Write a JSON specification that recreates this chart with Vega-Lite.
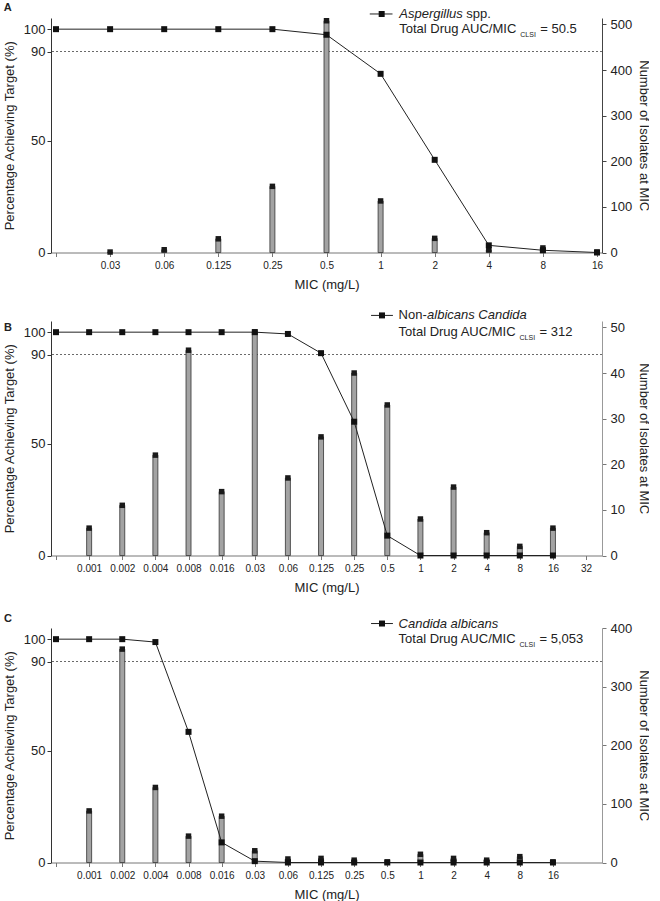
{
  "$schema": "https://vega.github.io/schema/vega-lite/v6.json",
  "padding": {"left": 2, "top": 2, "right": 0, "bottom": 0},
  "spacing": 17,
  "config": {
    "view": {"stroke": null},
    "font": "Liberation Sans",
    "axis": {"grid": false, "labelColor": "#222", "titleColor": "#222", "titleFontWeight": "normal", "titleFont": "Liberation Sans", "labelFont": "Liberation Sans", "domainWidth": 1, "tickWidth": 1},
    "axisX": {"labelOverlap": false, "labelFontSize": 10, "labelPadding": 4, "tickSize": 4, "domainColor": "#777", "tickColor": "#777", "labelFlush": false, "titleFontSize": 13, "titleY": 32, "titleBaseline": "middle"},
    "text": {"font": "Liberation Sans", "color": "#222"}
  },
  "datasets": {
    "A": [
      {"idx": 0, "mic": "", "pct": 100, "n": null},
      {"idx": 1, "mic": "0.03", "pct": 100, "n": 1},
      {"idx": 2, "mic": "0.06", "pct": 100, "n": 6},
      {"idx": 3, "mic": "0.125", "pct": 100, "n": 30},
      {"idx": 4, "mic": "0.25", "pct": 100, "n": 145},
      {"idx": 5, "mic": "0.5", "pct": 97.5, "n": 508},
      {"idx": 6, "mic": "1", "pct": 80, "n": 113},
      {"idx": 7, "mic": "2", "pct": 41.5, "n": 31},
      {"idx": 8, "mic": "4", "pct": 3.2, "n": 6},
      {"idx": 9, "mic": "8", "pct": 1, "n": 10},
      {"idx": 10, "mic": "16", "pct": 0, "n": 1}
    ],
    "B": [
      {"idx": 0, "mic": "", "pct": 100, "n": null},
      {"idx": 1, "mic": "0.001", "pct": 100, "n": 6},
      {"idx": 2, "mic": "0.002", "pct": 100, "n": 11},
      {"idx": 3, "mic": "0.004", "pct": 100, "n": 22},
      {"idx": 4, "mic": "0.008", "pct": 100, "n": 45},
      {"idx": 5, "mic": "0.016", "pct": 100, "n": 14},
      {"idx": 6, "mic": "0.03", "pct": 100, "n": 49},
      {"idx": 7, "mic": "0.06", "pct": 99.2, "n": 17},
      {"idx": 8, "mic": "0.125", "pct": 90.6, "n": 26},
      {"idx": 9, "mic": "0.25", "pct": 59.9, "n": 40},
      {"idx": 10, "mic": "0.5", "pct": 8.9, "n": 33},
      {"idx": 11, "mic": "1", "pct": 0, "n": 8},
      {"idx": 12, "mic": "2", "pct": 0, "n": 15},
      {"idx": 13, "mic": "4", "pct": 0, "n": 5},
      {"idx": 14, "mic": "8", "pct": 0, "n": 2},
      {"idx": 15, "mic": "16", "pct": 0, "n": 6}
    ],
    "C": [
      {"idx": 0, "mic": "", "pct": 100, "n": null},
      {"idx": 1, "mic": "0.001", "pct": 100, "n": 88},
      {"idx": 2, "mic": "0.002", "pct": 100, "n": 364},
      {"idx": 3, "mic": "0.004", "pct": 98.7, "n": 128},
      {"idx": 4, "mic": "0.008", "pct": 58.5, "n": 45},
      {"idx": 5, "mic": "0.016", "pct": 9, "n": 79},
      {"idx": 6, "mic": "0.03", "pct": 0.6, "n": 20},
      {"idx": 7, "mic": "0.06", "pct": 0, "n": 6},
      {"idx": 8, "mic": "0.125", "pct": 0, "n": 7},
      {"idx": 9, "mic": "0.25", "pct": 0, "n": 4},
      {"idx": 10, "mic": "0.5", "pct": 0, "n": 1},
      {"idx": 11, "mic": "1", "pct": 0, "n": 14},
      {"idx": 12, "mic": "2", "pct": 0, "n": 7},
      {"idx": 13, "mic": "4", "pct": 0, "n": 4},
      {"idx": 14, "mic": "8", "pct": 0, "n": 10},
      {"idx": 15, "mic": "16", "pct": 0, "n": 1}
    ]
  },
  "vconcat": [
    {
      "width": 551, "height": 234.5,
      "data": {"name": "A"},
      "layer": [
        {"data": {"values": [{}]}, "mark": {"type": "rule", "strokeDash": [2, 2], "color": "#444", "strokeWidth": 0.8},
         "encoding": {"y": {"datum": 90, "type": "quantitative", "scale": {"domain": [0, 105], "nice": false}, "axis": null}}},
        {"encoding": {
           "x": {"field": "idx", "type": "quantitative", "scale": {"domain": [0, 10], "nice": false},
                 "axis": {"values": [0,1,2,3,4,5,6,7,8,9,10], "labelExpr": "['','0.03','0.06','0.125','0.25','0.5','1','2','4','8','16'][datum.value]", "labelOverlap": false, "title": "MIC (mg/L)"}},
           "y": {"field": "n", "type": "quantitative", "scale": {"domain": [0, 514], "nice": false},
                 "axis": {"orient": "right", "values": [0,100,200,300,400,500], "labelFontSize": 13, "tickSize": 4, "labelPadding": 4, "domainColor": "#444", "tickColor": "#444", "title": "Number of Isolates at MIC", "titleFontSize": 13, "titleX": 41, "titleBaseline": "middle"}}},
         "layer": [
           {"mark": {"type": "bar", "orient": "vertical", "size": 5, "fill": "#a3a3a3", "stroke": "#333", "strokeWidth": 0.8}},
           {"mark": {"type": "point", "shape": "square", "filled": true, "color": "#1a1a1a", "size": 30, "opacity": 1}}
         ]},
        {"layer": [
           {"mark": {"type": "line", "color": "#222", "strokeWidth": 1},
            "encoding": {"x": {"field": "idx", "type": "quantitative", "axis": {"values": [0,1,2,3,4,5,6,7,8,9,10], "labelExpr": "['','0.03','0.06','0.125','0.25','0.5','1','2','4','8','16'][datum.value]", "labelOverlap": false, "title": "MIC (mg/L)"}},
                         "y": {"field": "pct", "type": "quantitative", "scale": {"domain": [0, 105], "nice": false},
                               "axis": {"orient": "left", "values": [0, 50, 90, 100], "labelFontSize": 13, "tickSize": 4, "labelPadding": 2, "domainColor": "#333", "tickColor": "#333", "title": "Percentage Achieving Target (%)", "titleFontSize": 13, "titleX": -42, "titleBaseline": "middle"}}}},
           {"mark": {"type": "point", "shape": "square", "filled": true, "color": "#111", "size": 36, "opacity": 1},
            "encoding": {"x": {"field": "idx", "type": "quantitative", "axis": {"values": [0,1,2,3,4,5,6,7,8,9,10], "labelExpr": "['','0.03','0.06','0.125','0.25','0.5','1','2','4','8','16'][datum.value]", "labelOverlap": false, "title": "MIC (mg/L)"}}, "y": {"field": "pct", "type": "quantitative"}}},
           {"data": {"values": [{}]}, "mark": {"type": "rule", "color": "#222", "strokeWidth": 1},
            "encoding": {"x": {"datum": 5.8, "type": "quantitative", "axis": {"values": [0,1,2,3,4,5,6,7,8,9,10], "labelExpr": "['','0.03','0.06','0.125','0.25','0.5','1','2','4','8','16'][datum.value]", "labelOverlap": false, "title": "MIC (mg/L)"}}, "x2": {"datum": 6.22}, "y": {"datum": 106.8}}},
           {"data": {"values": [{}]}, "mark": {"type": "point", "shape": "square", "filled": true, "color": "#111", "size": 36, "opacity": 1},
            "encoding": {"x": {"datum": 6.02, "type": "quantitative", "axis": {"values": [0,1,2,3,4,5,6,7,8,9,10], "labelExpr": "['','0.03','0.06','0.125','0.25','0.5','1','2','4','8','16'][datum.value]", "labelOverlap": false, "title": "MIC (mg/L)"}}, "y": {"datum": 106.8}}},
           {"data": {"values": [{}]}, "mark": {"type": "text", "text": "Aspergillus", "fontStyle": "italic", "fontSize": 13, "align": "left", "baseline": "middle"},
            "encoding": {"x": {"datum": 6.345, "type": "quantitative", "axis": {"values": [0,1,2,3,4,5,6,7,8,9,10], "labelExpr": "['','0.03','0.06','0.125','0.25','0.5','1','2','4','8','16'][datum.value]", "labelOverlap": false, "title": "MIC (mg/L)"}}, "y": {"datum": 106.8}}},
           {"data": {"values": [{}]}, "mark": {"type": "text", "text": "spp.", "fontSize": 13, "align": "left", "baseline": "middle", "dx": 67},
            "encoding": {"x": {"datum": 6.345, "type": "quantitative", "axis": {"values": [0,1,2,3,4,5,6,7,8,9,10], "labelExpr": "['','0.03','0.06','0.125','0.25','0.5','1','2','4','8','16'][datum.value]", "labelOverlap": false, "title": "MIC (mg/L)"}}, "y": {"datum": 106.8}}},
           {"data": {"values": [{}]}, "mark": {"type": "text", "text": "Total Drug AUC/MIC", "fontSize": 13, "align": "left", "baseline": "middle"},
            "encoding": {"x": {"datum": 6.345, "type": "quantitative", "axis": {"values": [0,1,2,3,4,5,6,7,8,9,10], "labelExpr": "['','0.03','0.06','0.125','0.25','0.5','1','2','4','8','16'][datum.value]", "labelOverlap": false, "title": "MIC (mg/L)"}}, "y": {"datum": 100}}},
           {"data": {"values": [{}]}, "mark": {"type": "text", "text": "CLSI", "fontSize": 7, "align": "left", "baseline": "middle", "dx": 121},
            "encoding": {"x": {"datum": 6.345, "type": "quantitative", "axis": {"values": [0,1,2,3,4,5,6,7,8,9,10], "labelExpr": "['','0.03','0.06','0.125','0.25','0.5','1','2','4','8','16'][datum.value]", "labelOverlap": false, "title": "MIC (mg/L)"}}, "y": {"datum": 97.5}}},
           {"data": {"values": [{}]}, "mark": {"type": "text", "text": "= 50.5", "fontSize": 13, "align": "left", "baseline": "middle", "dx": 141},
            "encoding": {"x": {"datum": 6.345, "type": "quantitative", "axis": {"values": [0,1,2,3,4,5,6,7,8,9,10], "labelExpr": "['','0.03','0.06','0.125','0.25','0.5','1','2','4','8','16'][datum.value]", "labelOverlap": false, "title": "MIC (mg/L)"}}, "y": {"datum": 100}}},
           {"data": {"values": [{}]}, "mark": {"type": "text", "text": "A", "fontSize": 11, "fontWeight": "bold", "align": "left", "baseline": "middle"},
            "encoding": {"x": {"datum": -0.964, "type": "quantitative", "axis": {"values": [0,1,2,3,4,5,6,7,8,9,10], "labelExpr": "['','0.03','0.06','0.125','0.25','0.5','1','2','4','8','16'][datum.value]", "labelOverlap": false, "title": "MIC (mg/L)"}}, "y": {"datum": 109.4}}}
         ]}
      ],
      "resolve": {"scale": {"y": "independent"}}
    },
    {
      "width": 551, "height": 234.5,
      "data": {"name": "B"},
      "layer": [
        {"data": {"values": [{}]}, "mark": {"type": "rule", "strokeDash": [2, 2], "color": "#444", "strokeWidth": 0.8},
         "encoding": {"y": {"datum": 90, "type": "quantitative", "scale": {"domain": [0, 105], "nice": false}, "axis": null}}},
        {"encoding": {
           "x": {"field": "idx", "type": "quantitative", "scale": {"domain": [0, 16.33], "nice": false},
                 "axis": {"values": [0,1,2,3,4,5,6,7,8,9,10,11,12,13,14,15,16], "labelExpr": "['','0.001','0.002','0.004','0.008','0.016','0.03','0.06','0.125','0.25','0.5','1','2','4','8','16','32'][datum.value]", "labelOverlap": false, "title": "MIC (mg/L)"}},
           "y": {"field": "n", "type": "quantitative", "scale": {"domain": [0, 51.4], "nice": false},
                 "axis": {"orient": "right", "values": [0,10,20,30,40,50], "labelFontSize": 13, "tickSize": 4, "labelPadding": 4, "domainColor": "#999", "tickColor": "#777", "title": "Number of Isolates at MIC", "titleFontSize": 13, "titleX": 41, "titleBaseline": "middle"}}},
         "layer": [
           {"mark": {"type": "bar", "orient": "vertical", "size": 5, "fill": "#a3a3a3", "stroke": "#333", "strokeWidth": 0.8}},
           {"mark": {"type": "point", "shape": "square", "filled": true, "color": "#1a1a1a", "size": 30, "opacity": 1}}
         ]},
        {"layer": [
           {"mark": {"type": "line", "color": "#222", "strokeWidth": 1},
            "encoding": {"x": {"field": "idx", "type": "quantitative", "axis": {"values": [0,1,2,3,4,5,6,7,8,9,10,11,12,13,14,15,16], "labelExpr": "['','0.001','0.002','0.004','0.008','0.016','0.03','0.06','0.125','0.25','0.5','1','2','4','8','16','32'][datum.value]", "labelOverlap": false, "title": "MIC (mg/L)"}},
                         "y": {"field": "pct", "type": "quantitative", "scale": {"domain": [0, 105], "nice": false},
                               "axis": {"orient": "left", "values": [0, 50, 90, 100], "labelFontSize": 13, "tickSize": 4, "labelPadding": 2, "domainColor": "#333", "tickColor": "#333", "title": "Percentage Achieving Target (%)", "titleFontSize": 13, "titleX": -42, "titleBaseline": "middle"}}}},
           {"mark": {"type": "point", "shape": "square", "filled": true, "color": "#111", "size": 36, "opacity": 1},
            "encoding": {"x": {"field": "idx", "type": "quantitative", "axis": {"values": [0,1,2,3,4,5,6,7,8,9,10,11,12,13,14,15,16], "labelExpr": "['','0.001','0.002','0.004','0.008','0.016','0.03','0.06','0.125','0.25','0.5','1','2','4','8','16','32'][datum.value]", "labelOverlap": false, "title": "MIC (mg/L)"}}, "y": {"field": "pct", "type": "quantitative"}}},
           {"data": {"values": [{}]}, "mark": {"type": "rule", "color": "#222", "strokeWidth": 1},
            "encoding": {"x": {"datum": 9.51, "type": "quantitative", "axis": {"values": [0,1,2,3,4,5,6,7,8,9,10,11,12,13,14,15,16], "labelExpr": "['','0.001','0.002','0.004','0.008','0.016','0.03','0.06','0.125','0.25','0.5','1','2','4','8','16','32'][datum.value]", "labelOverlap": false, "title": "MIC (mg/L)"}}, "x2": {"datum": 10.17}, "y": {"datum": 107.5}}},
           {"data": {"values": [{}]}, "mark": {"type": "point", "shape": "square", "filled": true, "color": "#111", "size": 36, "opacity": 1},
            "encoding": {"x": {"datum": 9.84, "type": "quantitative", "axis": {"values": [0,1,2,3,4,5,6,7,8,9,10,11,12,13,14,15,16], "labelExpr": "['','0.001','0.002','0.004','0.008','0.016','0.03','0.06','0.125','0.25','0.5','1','2','4','8','16','32'][datum.value]", "labelOverlap": false, "title": "MIC (mg/L)"}}, "y": {"datum": 107.5}}},
           {"data": {"values": [{}]}, "mark": {"type": "text", "text": "Non-", "fontSize": 13, "align": "left", "baseline": "middle"},
            "encoding": {"x": {"datum": 10.34, "type": "quantitative", "axis": {"values": [0,1,2,3,4,5,6,7,8,9,10,11,12,13,14,15,16], "labelExpr": "['','0.001','0.002','0.004','0.008','0.016','0.03','0.06','0.125','0.25','0.5','1','2','4','8','16','32'][datum.value]", "labelOverlap": false, "title": "MIC (mg/L)"}}, "y": {"datum": 107.5}}},
           {"data": {"values": [{}]}, "mark": {"type": "text", "text": "albicans Candida", "fontStyle": "italic", "fontSize": 13, "align": "left", "baseline": "middle", "dx": 28.5},
            "encoding": {"x": {"datum": 10.34, "type": "quantitative", "axis": {"values": [0,1,2,3,4,5,6,7,8,9,10,11,12,13,14,15,16], "labelExpr": "['','0.001','0.002','0.004','0.008','0.016','0.03','0.06','0.125','0.25','0.5','1','2','4','8','16','32'][datum.value]", "labelOverlap": false, "title": "MIC (mg/L)"}}, "y": {"datum": 107.5}}},
           {"data": {"values": [{}]}, "mark": {"type": "text", "text": "Total Drug AUC/MIC", "fontSize": 13, "align": "left", "baseline": "middle"},
            "encoding": {"x": {"datum": 10.34, "type": "quantitative", "axis": {"values": [0,1,2,3,4,5,6,7,8,9,10,11,12,13,14,15,16], "labelExpr": "['','0.001','0.002','0.004','0.008','0.016','0.03','0.06','0.125','0.25','0.5','1','2','4','8','16','32'][datum.value]", "labelOverlap": false, "title": "MIC (mg/L)"}}, "y": {"datum": 100}}},
           {"data": {"values": [{}]}, "mark": {"type": "text", "text": "CLSI", "fontSize": 7, "align": "left", "baseline": "middle", "dx": 121},
            "encoding": {"x": {"datum": 10.34, "type": "quantitative", "axis": {"values": [0,1,2,3,4,5,6,7,8,9,10,11,12,13,14,15,16], "labelExpr": "['','0.001','0.002','0.004','0.008','0.016','0.03','0.06','0.125','0.25','0.5','1','2','4','8','16','32'][datum.value]", "labelOverlap": false, "title": "MIC (mg/L)"}}, "y": {"datum": 97.5}}},
           {"data": {"values": [{}]}, "mark": {"type": "text", "text": "= 312", "fontSize": 13, "align": "left", "baseline": "middle", "dx": 141},
            "encoding": {"x": {"datum": 10.34, "type": "quantitative", "axis": {"values": [0,1,2,3,4,5,6,7,8,9,10,11,12,13,14,15,16], "labelExpr": "['','0.001','0.002','0.004','0.008','0.016','0.03','0.06','0.125','0.25','0.5','1','2','4','8','16','32'][datum.value]", "labelOverlap": false, "title": "MIC (mg/L)"}}, "y": {"datum": 100}}},
           {"data": {"values": [{}]}, "mark": {"type": "text", "text": "B", "fontSize": 11, "fontWeight": "bold", "align": "left", "baseline": "middle"},
            "encoding": {"x": {"datum": -1.57, "type": "quantitative", "axis": {"values": [0,1,2,3,4,5,6,7,8,9,10,11,12,13,14,15,16], "labelExpr": "['','0.001','0.002','0.004','0.008','0.016','0.03','0.06','0.125','0.25','0.5','1','2','4','8','16','32'][datum.value]", "labelOverlap": false, "title": "MIC (mg/L)"}}, "y": {"datum": 102}}}
         ]}
      ],
      "resolve": {"scale": {"y": "independent"}}
    },
    {
      "width": 551, "height": 234.5,
      "data": {"name": "C"},
      "layer": [
        {"data": {"values": [{}]}, "mark": {"type": "rule", "strokeDash": [2, 2], "color": "#444", "strokeWidth": 0.8},
         "encoding": {"y": {"datum": 90, "type": "quantitative", "scale": {"domain": [0, 105], "nice": false}, "axis": null}}},
        {"encoding": {
           "x": {"field": "idx", "type": "quantitative", "scale": {"domain": [0, 16.33], "nice": false},
                 "axis": {"values": [0,1,2,3,4,5,6,7,8,9,10,11,12,13,14,15], "labelExpr": "['','0.001','0.002','0.004','0.008','0.016','0.03','0.06','0.125','0.25','0.5','1','2','4','8','16'][datum.value]", "labelOverlap": false, "title": "MIC (mg/L)"}},
           "y": {"field": "n", "type": "quantitative", "scale": {"domain": [0, 400], "nice": false},
                 "axis": {"orient": "right", "values": [0,100,200,300,400], "labelFontSize": 13, "tickSize": 4, "labelPadding": 4, "domainColor": "#999", "tickColor": "#777", "title": "Number of Isolates at MIC", "titleFontSize": 13, "titleX": 41, "titleBaseline": "middle"}}},
         "layer": [
           {"mark": {"type": "bar", "orient": "vertical", "size": 5, "fill": "#a3a3a3", "stroke": "#333", "strokeWidth": 0.8}},
           {"mark": {"type": "point", "shape": "square", "filled": true, "color": "#1a1a1a", "size": 30, "opacity": 1}}
         ]},
        {"layer": [
           {"mark": {"type": "line", "color": "#222", "strokeWidth": 1},
            "encoding": {"x": {"field": "idx", "type": "quantitative", "axis": {"values": [0,1,2,3,4,5,6,7,8,9,10,11,12,13,14,15], "labelExpr": "['','0.001','0.002','0.004','0.008','0.016','0.03','0.06','0.125','0.25','0.5','1','2','4','8','16'][datum.value]", "labelOverlap": false, "title": "MIC (mg/L)"}},
                         "y": {"field": "pct", "type": "quantitative", "scale": {"domain": [0, 105], "nice": false},
                               "axis": {"orient": "left", "values": [0, 50, 90, 100], "labelFontSize": 13, "tickSize": 4, "labelPadding": 2, "domainColor": "#333", "tickColor": "#333", "title": "Percentage Achieving Target (%)", "titleFontSize": 13, "titleX": -42, "titleBaseline": "middle"}}}},
           {"mark": {"type": "point", "shape": "square", "filled": true, "color": "#111", "size": 36, "opacity": 1},
            "encoding": {"x": {"field": "idx", "type": "quantitative", "axis": {"values": [0,1,2,3,4,5,6,7,8,9,10,11,12,13,14,15], "labelExpr": "['','0.001','0.002','0.004','0.008','0.016','0.03','0.06','0.125','0.25','0.5','1','2','4','8','16'][datum.value]", "labelOverlap": false, "title": "MIC (mg/L)"}}, "y": {"field": "pct", "type": "quantitative"}}},
           {"data": {"values": [{}]}, "mark": {"type": "rule", "color": "#222", "strokeWidth": 1},
            "encoding": {"x": {"datum": 9.51, "type": "quantitative", "axis": {"values": [0,1,2,3,4,5,6,7,8,9,10,11,12,13,14,15], "labelExpr": "['','0.001','0.002','0.004','0.008','0.016','0.03','0.06','0.125','0.25','0.5','1','2','4','8','16'][datum.value]", "labelOverlap": false, "title": "MIC (mg/L)"}}, "x2": {"datum": 10.17}, "y": {"datum": 107}}},
           {"data": {"values": [{}]}, "mark": {"type": "point", "shape": "square", "filled": true, "color": "#111", "size": 36, "opacity": 1},
            "encoding": {"x": {"datum": 9.84, "type": "quantitative", "axis": {"values": [0,1,2,3,4,5,6,7,8,9,10,11,12,13,14,15], "labelExpr": "['','0.001','0.002','0.004','0.008','0.016','0.03','0.06','0.125','0.25','0.5','1','2','4','8','16'][datum.value]", "labelOverlap": false, "title": "MIC (mg/L)"}}, "y": {"datum": 107}}},
           {"data": {"values": [{}]}, "mark": {"type": "text", "text": "Candida albicans", "fontStyle": "italic", "fontSize": 13, "align": "left", "baseline": "middle"},
            "encoding": {"x": {"datum": 10.34, "type": "quantitative", "axis": {"values": [0,1,2,3,4,5,6,7,8,9,10,11,12,13,14,15], "labelExpr": "['','0.001','0.002','0.004','0.008','0.016','0.03','0.06','0.125','0.25','0.5','1','2','4','8','16'][datum.value]", "labelOverlap": false, "title": "MIC (mg/L)"}}, "y": {"datum": 107}}},
           {"data": {"values": [{}]}, "mark": {"type": "text", "text": "Total Drug AUC/MIC", "fontSize": 13, "align": "left", "baseline": "middle"},
            "encoding": {"x": {"datum": 10.34, "type": "quantitative", "axis": {"values": [0,1,2,3,4,5,6,7,8,9,10,11,12,13,14,15], "labelExpr": "['','0.001','0.002','0.004','0.008','0.016','0.03','0.06','0.125','0.25','0.5','1','2','4','8','16'][datum.value]", "labelOverlap": false, "title": "MIC (mg/L)"}}, "y": {"datum": 100}}},
           {"data": {"values": [{}]}, "mark": {"type": "text", "text": "CLSI", "fontSize": 7, "align": "left", "baseline": "middle", "dx": 121},
            "encoding": {"x": {"datum": 10.34, "type": "quantitative", "axis": {"values": [0,1,2,3,4,5,6,7,8,9,10,11,12,13,14,15], "labelExpr": "['','0.001','0.002','0.004','0.008','0.016','0.03','0.06','0.125','0.25','0.5','1','2','4','8','16'][datum.value]", "labelOverlap": false, "title": "MIC (mg/L)"}}, "y": {"datum": 97.5}}},
           {"data": {"values": [{}]}, "mark": {"type": "text", "text": "= 5,053", "fontSize": 13, "align": "left", "baseline": "middle", "dx": 141},
            "encoding": {"x": {"datum": 10.34, "type": "quantitative", "axis": {"values": [0,1,2,3,4,5,6,7,8,9,10,11,12,13,14,15], "labelExpr": "['','0.001','0.002','0.004','0.008','0.016','0.03','0.06','0.125','0.25','0.5','1','2','4','8','16'][datum.value]", "labelOverlap": false, "title": "MIC (mg/L)"}}, "y": {"datum": 100}}},
           {"data": {"values": [{}]}, "mark": {"type": "text", "text": "C", "fontSize": 11, "fontWeight": "bold", "align": "left", "baseline": "middle"},
            "encoding": {"x": {"datum": -1.57, "type": "quantitative", "axis": {"values": [0,1,2,3,4,5,6,7,8,9,10,11,12,13,14,15], "labelExpr": "['','0.001','0.002','0.004','0.008','0.016','0.03','0.06','0.125','0.25','0.5','1','2','4','8','16'][datum.value]", "labelOverlap": false, "title": "MIC (mg/L)"}}, "y": {"datum": 109.2}}}
         ]}
      ],
      "resolve": {"scale": {"y": "independent"}}
    }
  ]
}
